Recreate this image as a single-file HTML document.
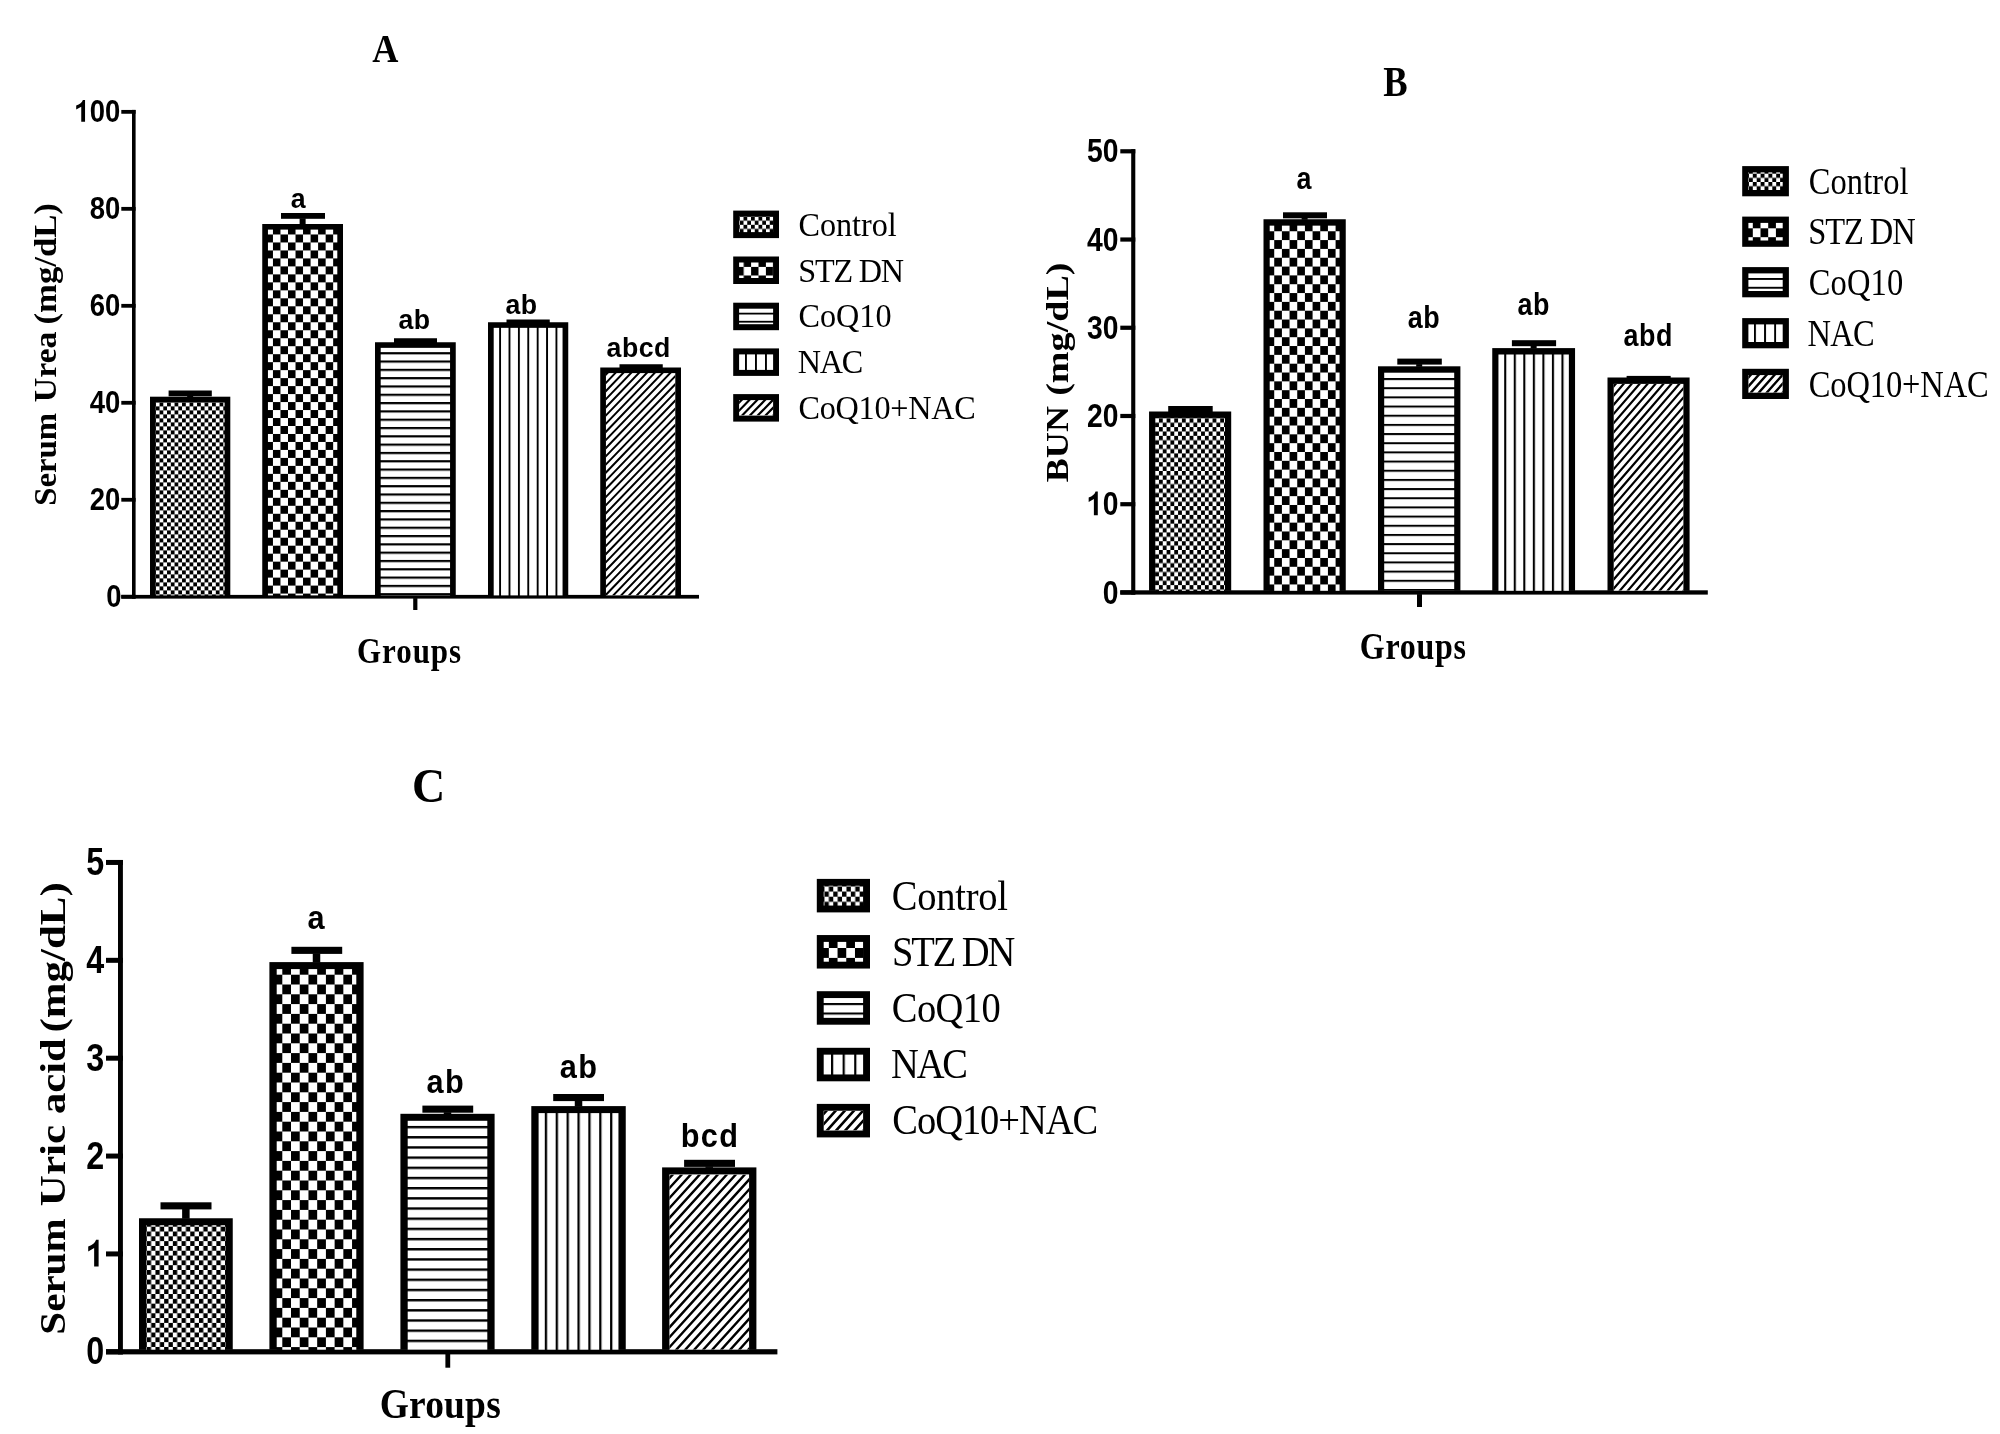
<!DOCTYPE html>
<html><head><meta charset="utf-8"><title>Serum urea, BUN and uric acid</title>
<style>html,body{margin:0;padding:0;background:#fff;}svg{display:block;filter:grayscale(1);}</style></head>
<body><svg width="2000" height="1434" viewBox="0 0 2000 1434">
<defs><pattern id="p1" patternUnits="userSpaceOnUse" x="155.8" y="402.4" width="7.5" height="8"><rect width="7.5" height="8" fill="#fff"/><rect x="3.75" y="0" width="3.75" height="4" fill="#000"/><rect x="0" y="4" width="3.75" height="4" fill="#000"/></pattern>
<pattern id="p2" patternUnits="userSpaceOnUse" x="265.4" y="226.5" width="15.06" height="15.96"><rect width="15.06" height="15.96" fill="#fff"/><rect x="7.53" y="0" width="7.53" height="7.98" fill="#000"/><rect x="0" y="7.98" width="7.53" height="7.98" fill="#000"/></pattern>
<pattern id="p3" patternUnits="userSpaceOnUse" x="0" y="352.16" width="20" height="8.31"><rect width="20" height="8.31" fill="#fff"/><rect y="0" width="20" height="2.2" fill="#000"/></pattern>
<pattern id="p4" patternUnits="userSpaceOnUse" x="499.15" y="0" width="9.39" height="20"><rect width="9.39" height="20" fill="#fff"/><rect x="0" width="1.9" height="20" fill="#000"/></pattern>
<pattern id="p5" patternUnits="userSpaceOnUse" x="739.75" y="216.6" width="7.5" height="8.2"><rect width="7.5" height="8.2" fill="#fff"/><rect x="3.75" y="0" width="3.75" height="4.1" fill="#000"/><rect x="0" y="4.1" width="3.75" height="4.1" fill="#000"/></pattern>
<pattern id="p6" patternUnits="userSpaceOnUse" x="736.3" y="258.3" width="14.8" height="17.2"><rect width="14.8" height="17.2" fill="#fff"/><rect x="7.4" y="0" width="7.4" height="8.6" fill="#000"/><rect x="0" y="8.6" width="7.4" height="8.6" fill="#000"/></pattern>
<pattern id="p7" patternUnits="userSpaceOnUse" x="0" y="312.7" width="20" height="8.1"><rect width="20" height="8.1" fill="#fff"/><rect y="0" width="20" height="1.8" fill="#000"/></pattern>
<pattern id="p8" patternUnits="userSpaceOnUse" x="745" y="0" width="10" height="20"><rect width="10" height="20" fill="#fff"/><rect x="0" width="1.9" height="20" fill="#000"/></pattern>
<pattern id="p9" patternUnits="userSpaceOnUse" x="1155.1" y="418.3" width="7.66" height="8.78"><rect width="7.66" height="8.78" fill="#fff"/><rect x="3.83" y="0" width="3.83" height="4.39" fill="#000"/><rect x="0" y="4.39" width="3.83" height="4.39" fill="#000"/></pattern>
<pattern id="p10" patternUnits="userSpaceOnUse" x="1266.56" y="222.42" width="15.34" height="17.66"><rect width="15.34" height="17.66" fill="#fff"/><rect x="7.67" y="0" width="7.67" height="8.83" fill="#000"/><rect x="0" y="8.83" width="7.67" height="8.83" fill="#000"/></pattern>
<pattern id="p11" patternUnits="userSpaceOnUse" x="0" y="378.05" width="20" height="9.17"><rect width="20" height="9.17" fill="#fff"/><rect y="0" width="20" height="2" fill="#000"/></pattern>
<pattern id="p12" patternUnits="userSpaceOnUse" x="1504.2" y="0" width="9.54" height="20"><rect width="9.54" height="20" fill="#fff"/><rect x="0" width="2.1" height="20" fill="#000"/></pattern>
<pattern id="p13" patternUnits="userSpaceOnUse" x="1748.9" y="173.67" width="7.8" height="8.36"><rect width="7.8" height="8.36" fill="#fff"/><rect x="3.9" y="0" width="3.9" height="4.18" fill="#000"/><rect x="0" y="4.18" width="3.9" height="4.18" fill="#000"/></pattern>
<pattern id="p14" patternUnits="userSpaceOnUse" x="1745.1" y="219.4" width="15.4" height="17.8"><rect width="15.4" height="17.8" fill="#fff"/><rect x="7.7" y="0" width="7.7" height="8.9" fill="#000"/><rect x="0" y="8.9" width="7.7" height="8.9" fill="#000"/></pattern>
<pattern id="p15" patternUnits="userSpaceOnUse" x="0" y="278" width="20" height="8.8"><rect width="20" height="8.8" fill="#fff"/><rect y="0" width="20" height="1.9" fill="#000"/></pattern>
<pattern id="p16" patternUnits="userSpaceOnUse" x="1754" y="0" width="10.1" height="20"><rect width="10.1" height="20" fill="#fff"/><rect x="0" width="1.9" height="20" fill="#000"/></pattern>
<pattern id="p17" patternUnits="userSpaceOnUse" x="146.75" y="1217.08" width="8.7" height="9.62"><rect width="8.7" height="9.62" fill="#fff"/><rect x="4.35" y="0" width="4.35" height="4.81" fill="#000"/><rect x="0" y="4.81" width="4.35" height="4.81" fill="#000"/></pattern>
<pattern id="p18" patternUnits="userSpaceOnUse" x="273.58" y="964.9" width="17.44" height="19.6"><rect width="17.44" height="19.6" fill="#fff"/><rect x="8.72" y="0" width="8.72" height="9.8" fill="#000"/><rect x="0" y="9.8" width="8.72" height="9.8" fill="#000"/></pattern>
<pattern id="p19" patternUnits="userSpaceOnUse" x="0" y="1125.9" width="20" height="10.18"><rect width="20" height="10.18" fill="#fff"/><rect y="0" width="20" height="2.4" fill="#000"/></pattern>
<pattern id="p20" patternUnits="userSpaceOnUse" x="544.8" y="0" width="10.88" height="20"><rect width="10.88" height="20" fill="#fff"/><rect x="0" width="2.3" height="20" fill="#000"/></pattern>
<pattern id="p21" patternUnits="userSpaceOnUse" x="824.45" y="886.5" width="8.8" height="10.2"><rect width="8.8" height="10.2" fill="#fff"/><rect x="4.4" y="0" width="4.4" height="5.1" fill="#000"/><rect x="0" y="5.1" width="4.4" height="5.1" fill="#000"/></pattern>
<pattern id="p22" patternUnits="userSpaceOnUse" x="820.15" y="938.1" width="17.4" height="19.8"><rect width="17.4" height="19.8" fill="#fff"/><rect x="8.7" y="0" width="8.7" height="9.9" fill="#000"/><rect x="0" y="9.9" width="8.7" height="9.9" fill="#000"/></pattern>
<pattern id="p23" patternUnits="userSpaceOnUse" x="0" y="1003" width="20" height="9.5"><rect width="20" height="9.5" fill="#fff"/><rect y="0" width="20" height="2.1" fill="#000"/></pattern>
<pattern id="p24" patternUnits="userSpaceOnUse" x="831" y="0" width="11.6" height="20"><rect width="11.6" height="20" fill="#fff"/><rect x="0" width="2.2" height="20" fill="#000"/></pattern>
<clipPath id="c1"><rect x="605.95" y="373.1" width="69.35" height="222.3"/></clipPath>
<clipPath id="c2"><rect x="739.1" y="400.1" width="34" height="15.5"/></clipPath>
<clipPath id="c3"><rect x="1613.7" y="383.9" width="69.7" height="206.9"/></clipPath>
<clipPath id="c4"><rect x="1748.4" y="375.1" width="34.3" height="17.6"/></clipPath>
<clipPath id="c5"><rect x="669.4" y="1174.4" width="79.7" height="175.3"/></clipPath>
<clipPath id="c6"><rect x="823.7" y="1110.75" width="39.4" height="19.8"/></clipPath></defs>
<rect width="2000" height="1434" fill="#fff"/>
<rect x="132" y="109.9" width="3.6" height="488.7" fill="#000"/>
<rect x="121.3" y="594.9" width="577.7" height="3.7" fill="#000"/>
<rect x="121.3" y="109.95" width="14.3" height="3.8" fill="#000"/>
<path transform="translate(74.46 121.65) scale(27.5000 31.1000)" d="M0.385,0L0.385,-0.699L0.307,-0.699Q0.261,-0.5795 0.063,-0.522L0.063,-0.393L0.247,-0.482L0.247,0Z"/>
<text transform="translate(89.75 121.65) scale(0.27500 0.31100)" font-family="Liberation Sans" font-weight="bold" font-size="100">0</text>
<text transform="translate(105.04 121.65) scale(0.27500 0.31100)" font-family="Liberation Sans" font-weight="bold" font-size="100">0</text>
<rect x="121.3" y="206.93" width="14.3" height="3.8" fill="#000"/>
<text transform="translate(89.75 218.63) scale(0.27500 0.31100)" font-family="Liberation Sans" font-weight="bold" font-size="100">8</text>
<text transform="translate(105.04 218.63) scale(0.27500 0.31100)" font-family="Liberation Sans" font-weight="bold" font-size="100">0</text>
<rect x="121.3" y="303.91" width="14.3" height="3.8" fill="#000"/>
<text transform="translate(89.75 315.61) scale(0.27500 0.31100)" font-family="Liberation Sans" font-weight="bold" font-size="100">6</text>
<text transform="translate(105.04 315.61) scale(0.27500 0.31100)" font-family="Liberation Sans" font-weight="bold" font-size="100">0</text>
<rect x="121.3" y="400.89" width="14.3" height="3.8" fill="#000"/>
<text transform="translate(89.75 412.59) scale(0.27500 0.31100)" font-family="Liberation Sans" font-weight="bold" font-size="100">4</text>
<text transform="translate(105.04 412.59) scale(0.27500 0.31100)" font-family="Liberation Sans" font-weight="bold" font-size="100">0</text>
<rect x="121.3" y="497.87" width="14.3" height="3.8" fill="#000"/>
<text transform="translate(89.75 509.57) scale(0.27500 0.31100)" font-family="Liberation Sans" font-weight="bold" font-size="100">2</text>
<text transform="translate(105.04 509.57) scale(0.27500 0.31100)" font-family="Liberation Sans" font-weight="bold" font-size="100">0</text>
<rect x="121.3" y="594.85" width="14.3" height="3.8" fill="#000"/>
<text transform="translate(106.24 606.55) scale(0.27500 0.31100)" font-family="Liberation Sans" font-weight="bold" font-size="100">0</text>
<rect x="413.2" y="598.1" width="4.2" height="11.9" fill="#000"/>
<rect x="150" y="396.7" width="80.3" height="198.7" fill="#000"/>
<rect x="155.7" y="402.3" width="68.9" height="193.1" fill="url(#p1)"/>
<rect x="262.25" y="224" width="80.75" height="371.4" fill="#000"/>
<rect x="267.95" y="229.6" width="69.35" height="365.8" fill="url(#p2)"/>
<rect x="375" y="342.25" width="80.75" height="253.15" fill="#000"/>
<rect x="380.7" y="347.85" width="69.35" height="247.55" fill="url(#p3)"/>
<rect x="488" y="322.25" width="80.25" height="273.15" fill="#000"/>
<rect x="493.7" y="327.85" width="68.85" height="267.55" fill="url(#p4)"/>
<rect x="600.25" y="367.5" width="80.75" height="227.9" fill="#000"/>
<rect x="605.95" y="373.1" width="69.35" height="222.3" fill="#fff"/>
<path clip-path="url(#c1)" d="M606.11,373.1L608.86,373.1L394.74,595.4L391.99,595.4ZM613.96,373.1L616.71,373.1L402.59,595.4L399.84,595.4ZM621.81,373.1L624.56,373.1L410.44,595.4L407.69,595.4ZM629.66,373.1L632.41,373.1L418.29,595.4L415.54,595.4ZM637.51,373.1L640.26,373.1L426.14,595.4L423.39,595.4ZM645.36,373.1L648.11,373.1L433.99,595.4L431.24,595.4ZM653.21,373.1L655.96,373.1L441.84,595.4L439.09,595.4ZM661.06,373.1L663.81,373.1L449.69,595.4L446.94,595.4ZM668.91,373.1L671.66,373.1L457.54,595.4L454.79,595.4ZM676.76,373.1L679.51,373.1L465.39,595.4L462.64,595.4ZM684.61,373.1L687.36,373.1L473.24,595.4L470.49,595.4ZM692.46,373.1L695.21,373.1L481.09,595.4L478.34,595.4ZM700.31,373.1L703.06,373.1L488.94,595.4L486.19,595.4ZM708.16,373.1L710.91,373.1L496.79,595.4L494.04,595.4ZM716.01,373.1L718.76,373.1L504.64,595.4L501.89,595.4ZM723.86,373.1L726.61,373.1L512.49,595.4L509.74,595.4ZM731.71,373.1L734.46,373.1L520.34,595.4L517.59,595.4ZM739.56,373.1L742.31,373.1L528.19,595.4L525.44,595.4ZM747.41,373.1L750.16,373.1L536.04,595.4L533.29,595.4ZM755.26,373.1L758.01,373.1L543.89,595.4L541.14,595.4ZM763.11,373.1L765.86,373.1L551.74,595.4L548.99,595.4ZM770.96,373.1L773.71,373.1L559.59,595.4L556.84,595.4ZM778.81,373.1L781.56,373.1L567.44,595.4L564.69,595.4ZM786.66,373.1L789.41,373.1L575.29,595.4L572.54,595.4ZM794.51,373.1L797.26,373.1L583.14,595.4L580.39,595.4ZM802.36,373.1L805.11,373.1L590.99,595.4L588.24,595.4ZM810.21,373.1L812.96,373.1L598.84,595.4L596.09,595.4ZM818.06,373.1L820.81,373.1L606.69,595.4L603.94,595.4ZM825.91,373.1L828.66,373.1L614.54,595.4L611.79,595.4ZM833.76,373.1L836.51,373.1L622.39,595.4L619.64,595.4ZM841.61,373.1L844.36,373.1L630.24,595.4L627.49,595.4ZM849.46,373.1L852.21,373.1L638.09,595.4L635.34,595.4ZM857.31,373.1L860.06,373.1L645.94,595.4L643.19,595.4ZM865.16,373.1L867.91,373.1L653.79,595.4L651.04,595.4ZM873.01,373.1L875.76,373.1L661.64,595.4L658.89,595.4ZM880.86,373.1L883.61,373.1L669.49,595.4L666.74,595.4ZM888.71,373.1L891.46,373.1L677.34,595.4L674.59,595.4Z"/>
<rect x="168.6" y="390.5" width="43.2" height="5.8" fill="#000"/>
<rect x="187.15" y="395.8" width="6" height="1.4" fill="#000"/>
<rect x="281" y="213" width="44" height="5.8" fill="#000"/>
<rect x="299.62" y="218.3" width="6" height="6.2" fill="#000"/>
<text transform="translate(290.69 207.6) scale(0.26700 0.27400)" font-family="Liberation Sans" font-weight="bold" font-size="100" letter-spacing="1.87">a</text>
<rect x="394" y="338.25" width="43" height="5.8" fill="#000"/>
<text transform="translate(398.43 329) scale(0.26700 0.27400)" font-family="Liberation Sans" font-weight="bold" font-size="100" letter-spacing="1.87">ab</text>
<rect x="506.5" y="319.5" width="43.25" height="5.8" fill="#000"/>
<text transform="translate(505.43 313.5) scale(0.26700 0.27400)" font-family="Liberation Sans" font-weight="bold" font-size="100" letter-spacing="1.87">ab</text>
<rect x="619.5" y="364.25" width="43.25" height="5.8" fill="#000"/>
<text transform="translate(606.58 357.25) scale(0.26700 0.27400)" font-family="Liberation Sans" font-weight="bold" font-size="100" letter-spacing="1.87">abcd</text>
<text transform="translate(372.34 61.8) scale(0.36200 0.39400)" font-family="Liberation Serif" font-weight="bold" font-size="100">A</text>
<text transform="translate(356.95 663.3) scale(0.31000 0.35800)" font-family="Liberation Serif" font-weight="bold" font-size="100" letter-spacing="3.14">Groups</text>
<text transform="translate(55.7 505.82) rotate(-90) scale(0.32833 0.31800)" font-family="Liberation Serif" font-weight="bold" font-size="100">Serum</text>
<text transform="translate(55.7 402.35) rotate(-90) scale(0.33910 0.31800)" font-family="Liberation Serif" font-weight="bold" font-size="100">Urea</text>
<text transform="translate(55.7 324.56) rotate(-90) scale(0.34725 0.31800)" font-family="Liberation Serif" font-weight="bold" font-size="100">(mg/dL)</text>
<rect x="733.2" y="210.6" width="45.8" height="27.5" fill="#000"/>
<rect x="739.1" y="216.6" width="34" height="15.5" fill="url(#p5)"/>
<text transform="translate(798.41 235.8) scale(0.32200 0.34600)" font-family="Liberation Serif" font-weight="normal" font-size="100" letter-spacing="0.03">Control</text>
<rect x="733.2" y="256.5" width="45.8" height="27.5" fill="#000"/>
<rect x="739.1" y="262.5" width="34" height="15.5" fill="url(#p6)"/>
<text transform="translate(798.23 281.5) scale(0.32200 0.34600)" font-family="Liberation Serif" font-weight="normal" font-size="100" letter-spacing="-3.74">STZ DN</text>
<rect x="733.2" y="302.7" width="45.8" height="27.5" fill="#000"/>
<rect x="739.1" y="308.7" width="34" height="15.5" fill="url(#p7)"/>
<text transform="translate(798.41 327.3) scale(0.32200 0.34600)" font-family="Liberation Serif" font-weight="normal" font-size="100" letter-spacing="0.11">CoQ10</text>
<rect x="733.2" y="348.4" width="45.8" height="27.5" fill="#000"/>
<rect x="739.1" y="354.4" width="34" height="15.5" fill="url(#p8)"/>
<text transform="translate(797.83 373.2) scale(0.32200 0.34600)" font-family="Liberation Serif" font-weight="normal" font-size="100" letter-spacing="-4.01">NAC</text>
<rect x="733.2" y="394.1" width="45.8" height="27.5" fill="#000"/>
<rect x="739.1" y="400.1" width="34" height="15.5" fill="#fff"/>
<path clip-path="url(#c2)" d="M740.1,400.1L743.1,400.1L727.99,415.6L724.99,415.6ZM747.9,400.1L750.9,400.1L735.79,415.6L732.79,415.6ZM755.7,400.1L758.7,400.1L743.59,415.6L740.59,415.6ZM763.5,400.1L766.5,400.1L751.39,415.6L748.39,415.6ZM771.3,400.1L774.3,400.1L759.19,415.6L756.19,415.6ZM779.1,400.1L782.1,400.1L766.99,415.6L763.99,415.6ZM786.9,400.1L789.9,400.1L774.79,415.6L771.79,415.6Z"/>
<text transform="translate(798.41 418.8) scale(0.32200 0.34600)" font-family="Liberation Serif" font-weight="normal" font-size="100" letter-spacing="-0.71">CoQ10+NAC</text>
<rect x="1131.2" y="149.2" width="4.1" height="445.4" fill="#000"/>
<rect x="1120.3" y="590.3" width="587.5" height="4.3" fill="#000"/>
<rect x="1120.3" y="149.2" width="15" height="4.2" fill="#000"/>
<text transform="translate(1086.89 162.4) scale(0.28300 0.33900)" font-family="Liberation Sans" font-weight="bold" font-size="100">5</text>
<text transform="translate(1102.63 162.4) scale(0.28300 0.33900)" font-family="Liberation Sans" font-weight="bold" font-size="100">0</text>
<rect x="1120.3" y="237.43" width="15" height="4.2" fill="#000"/>
<text transform="translate(1086.89 250.63) scale(0.28300 0.33900)" font-family="Liberation Sans" font-weight="bold" font-size="100">4</text>
<text transform="translate(1102.63 250.63) scale(0.28300 0.33900)" font-family="Liberation Sans" font-weight="bold" font-size="100">0</text>
<rect x="1120.3" y="325.66" width="15" height="4.2" fill="#000"/>
<text transform="translate(1086.89 338.86) scale(0.28300 0.33900)" font-family="Liberation Sans" font-weight="bold" font-size="100">3</text>
<text transform="translate(1102.63 338.86) scale(0.28300 0.33900)" font-family="Liberation Sans" font-weight="bold" font-size="100">0</text>
<rect x="1120.3" y="413.89" width="15" height="4.2" fill="#000"/>
<text transform="translate(1086.89 427.09) scale(0.28300 0.33900)" font-family="Liberation Sans" font-weight="bold" font-size="100">2</text>
<text transform="translate(1102.63 427.09) scale(0.28300 0.33900)" font-family="Liberation Sans" font-weight="bold" font-size="100">0</text>
<rect x="1120.3" y="502.12" width="15" height="4.2" fill="#000"/>
<path transform="translate(1086.89 515.32) scale(28.3000 33.9000)" d="M0.385,0L0.385,-0.699L0.307,-0.699Q0.261,-0.5795 0.063,-0.522L0.063,-0.393L0.247,-0.482L0.247,0Z"/>
<text transform="translate(1102.63 515.32) scale(0.28300 0.33900)" font-family="Liberation Sans" font-weight="bold" font-size="100">0</text>
<rect x="1120.3" y="590.35" width="15" height="4.2" fill="#000"/>
<text transform="translate(1102.63 603.55) scale(0.28300 0.33900)" font-family="Liberation Sans" font-weight="bold" font-size="100">0</text>
<rect x="1417" y="594.1" width="5" height="12.9" fill="#000"/>
<rect x="1149.05" y="411.5" width="82.15" height="179.3" fill="#000"/>
<rect x="1155.25" y="417.9" width="69.75" height="172.9" fill="url(#p9)"/>
<rect x="1263.5" y="219.25" width="82.25" height="371.55" fill="#000"/>
<rect x="1269.7" y="225.65" width="69.85" height="365.15" fill="url(#p10)"/>
<rect x="1378" y="366.3" width="82.4" height="224.5" fill="#000"/>
<rect x="1384.2" y="372.7" width="70" height="218.1" fill="url(#p11)"/>
<rect x="1492.25" y="348.1" width="82.8" height="242.7" fill="#000"/>
<rect x="1498.45" y="354.5" width="70.4" height="236.3" fill="url(#p12)"/>
<rect x="1607.5" y="377.5" width="82.1" height="213.3" fill="#000"/>
<rect x="1613.7" y="383.9" width="69.7" height="206.9" fill="#fff"/>
<path clip-path="url(#c3)" d="M1614.28,383.9L1617.18,383.9L1438.4,590.8L1435.5,590.8ZM1622.23,383.9L1625.13,383.9L1446.35,590.8L1443.45,590.8ZM1630.18,383.9L1633.08,383.9L1454.3,590.8L1451.4,590.8ZM1638.13,383.9L1641.03,383.9L1462.25,590.8L1459.35,590.8ZM1646.08,383.9L1648.98,383.9L1470.2,590.8L1467.3,590.8ZM1654.03,383.9L1656.93,383.9L1478.15,590.8L1475.25,590.8ZM1661.98,383.9L1664.88,383.9L1486.1,590.8L1483.2,590.8ZM1669.93,383.9L1672.83,383.9L1494.05,590.8L1491.15,590.8ZM1677.88,383.9L1680.78,383.9L1502,590.8L1499.1,590.8ZM1685.83,383.9L1688.73,383.9L1509.95,590.8L1507.05,590.8ZM1693.78,383.9L1696.68,383.9L1517.9,590.8L1515,590.8ZM1701.73,383.9L1704.63,383.9L1525.85,590.8L1522.95,590.8ZM1709.68,383.9L1712.58,383.9L1533.8,590.8L1530.9,590.8ZM1717.63,383.9L1720.53,383.9L1541.75,590.8L1538.85,590.8ZM1725.58,383.9L1728.48,383.9L1549.7,590.8L1546.8,590.8ZM1733.53,383.9L1736.43,383.9L1557.65,590.8L1554.75,590.8ZM1741.48,383.9L1744.38,383.9L1565.6,590.8L1562.7,590.8ZM1749.43,383.9L1752.33,383.9L1573.55,590.8L1570.65,590.8ZM1757.38,383.9L1760.28,383.9L1581.5,590.8L1578.6,590.8ZM1765.33,383.9L1768.23,383.9L1589.45,590.8L1586.55,590.8ZM1773.28,383.9L1776.18,383.9L1597.4,590.8L1594.5,590.8ZM1781.23,383.9L1784.13,383.9L1605.35,590.8L1602.45,590.8ZM1789.18,383.9L1792.08,383.9L1613.3,590.8L1610.4,590.8ZM1797.13,383.9L1800.03,383.9L1621.25,590.8L1618.35,590.8ZM1805.08,383.9L1807.98,383.9L1629.2,590.8L1626.3,590.8ZM1813.03,383.9L1815.93,383.9L1637.15,590.8L1634.25,590.8ZM1820.98,383.9L1823.88,383.9L1645.1,590.8L1642.2,590.8ZM1828.93,383.9L1831.83,383.9L1653.05,590.8L1650.15,590.8ZM1836.88,383.9L1839.78,383.9L1661,590.8L1658.1,590.8ZM1844.83,383.9L1847.73,383.9L1668.95,590.8L1666.05,590.8ZM1852.78,383.9L1855.68,383.9L1676.9,590.8L1674,590.8ZM1860.73,383.9L1863.63,383.9L1684.85,590.8L1681.95,590.8Z"/>
<rect x="1168.2" y="406" width="44.5" height="6" fill="#000"/>
<rect x="1283" y="212.3" width="44" height="6" fill="#000"/>
<rect x="1301.62" y="217.8" width="6" height="1.95" fill="#000"/>
<text transform="translate(1296.43 189) scale(0.26900 0.30600)" font-family="Liberation Sans" font-weight="bold" font-size="100" letter-spacing="2.23">a</text>
<rect x="1397.3" y="358.6" width="44.5" height="6" fill="#000"/>
<rect x="1416.2" y="364.1" width="6" height="2.7" fill="#000"/>
<text transform="translate(1407.82 328) scale(0.26900 0.30600)" font-family="Liberation Sans" font-weight="bold" font-size="100" letter-spacing="2.23">ab</text>
<rect x="1511.9" y="340.2" width="44.2" height="6" fill="#000"/>
<rect x="1530.65" y="345.7" width="6" height="2.9" fill="#000"/>
<text transform="translate(1517.42 314.7) scale(0.26900 0.30600)" font-family="Liberation Sans" font-weight="bold" font-size="100" letter-spacing="2.23">ab</text>
<rect x="1626.6" y="375.9" width="44.1" height="6" fill="#000"/>
<text transform="translate(1623.46 345.7) scale(0.26900 0.30600)" font-family="Liberation Sans" font-weight="bold" font-size="100" letter-spacing="2.23">abd</text>
<text transform="translate(1383.36 96.2) scale(0.36600 0.42900)" font-family="Liberation Serif" font-weight="bold" font-size="100">B</text>
<text transform="translate(1359.8 658.8) scale(0.32000 0.38100)" font-family="Liberation Serif" font-weight="bold" font-size="100" letter-spacing="2.21">Groups</text>
<text transform="translate(1068.2 482.33) rotate(-90) scale(0.36158 0.30800)" font-family="Liberation Serif" font-weight="bold" font-size="100">BUN</text>
<text transform="translate(1068.2 395.82) rotate(-90) scale(0.38125 0.30800)" font-family="Liberation Serif" font-weight="bold" font-size="100">(mg/dL)</text>
<rect x="1742.2" y="166.1" width="46.7" height="30.2" fill="#000"/>
<rect x="1748.4" y="172.4" width="34.3" height="17.6" fill="url(#p13)"/>
<text transform="translate(1808.7 193.5) scale(0.32500 0.37200)" font-family="Liberation Serif" font-weight="normal" font-size="100" letter-spacing="0.34">Control</text>
<rect x="1742.2" y="216.6" width="46.7" height="30.2" fill="#000"/>
<rect x="1748.4" y="222.9" width="34.3" height="17.6" fill="url(#p14)"/>
<text transform="translate(1808.31 244) scale(0.32500 0.37200)" font-family="Liberation Serif" font-weight="normal" font-size="100" letter-spacing="-3.34">STZ DN</text>
<rect x="1742.2" y="267.1" width="46.7" height="30.2" fill="#000"/>
<rect x="1748.4" y="273.4" width="34.3" height="17.6" fill="url(#p15)"/>
<text transform="translate(1808.7 294.5) scale(0.32500 0.37200)" font-family="Liberation Serif" font-weight="normal" font-size="100" letter-spacing="0.46">CoQ10</text>
<rect x="1742.2" y="318.1" width="46.7" height="30.2" fill="#000"/>
<rect x="1748.4" y="324.4" width="34.3" height="17.6" fill="url(#p16)"/>
<text transform="translate(1807.53 345.8) scale(0.32500 0.37200)" font-family="Liberation Serif" font-weight="normal" font-size="100" letter-spacing="-2.14">NAC</text>
<rect x="1742.2" y="368.8" width="46.7" height="30.2" fill="#000"/>
<rect x="1748.4" y="375.1" width="34.3" height="17.6" fill="#fff"/>
<path clip-path="url(#c4)" d="M1748.99,375.1L1752.19,375.1L1736.47,392.7L1733.27,392.7ZM1756.94,375.1L1760.14,375.1L1744.42,392.7L1741.22,392.7ZM1764.89,375.1L1768.09,375.1L1752.37,392.7L1749.17,392.7ZM1772.84,375.1L1776.04,375.1L1760.32,392.7L1757.12,392.7ZM1780.79,375.1L1783.99,375.1L1768.27,392.7L1765.07,392.7ZM1788.74,375.1L1791.94,375.1L1776.22,392.7L1773.02,392.7ZM1796.69,375.1L1799.89,375.1L1784.17,392.7L1780.97,392.7Z"/>
<text transform="translate(1808.7 396.5) scale(0.32500 0.37200)" font-family="Liberation Serif" font-weight="normal" font-size="100" letter-spacing="-0.3">CoQ10+NAC</text>
<rect x="118" y="860" width="4.9" height="494.4" fill="#000"/>
<rect x="106" y="1349.2" width="671.4" height="5.2" fill="#000"/>
<rect x="106" y="859.95" width="16.9" height="5" fill="#000"/>
<text transform="translate(86.17 875.05) scale(0.32300 0.38400)" font-family="Liberation Sans" font-weight="bold" font-size="100">5</text>
<rect x="106" y="957.82" width="16.9" height="5" fill="#000"/>
<text transform="translate(86.17 972.92) scale(0.32300 0.38400)" font-family="Liberation Sans" font-weight="bold" font-size="100">4</text>
<rect x="106" y="1055.69" width="16.9" height="5" fill="#000"/>
<text transform="translate(86.17 1070.79) scale(0.32300 0.38400)" font-family="Liberation Sans" font-weight="bold" font-size="100">3</text>
<rect x="106" y="1153.56" width="16.9" height="5" fill="#000"/>
<text transform="translate(86.17 1168.66) scale(0.32300 0.38400)" font-family="Liberation Sans" font-weight="bold" font-size="100">2</text>
<rect x="106" y="1251.43" width="16.9" height="5" fill="#000"/>
<path transform="translate(86.17 1266.53) scale(32.3000 38.4000)" d="M0.385,0L0.385,-0.699L0.307,-0.699Q0.261,-0.5795 0.063,-0.522L0.063,-0.393L0.247,-0.482L0.247,0Z"/>
<rect x="106" y="1349.3" width="16.9" height="5" fill="#000"/>
<text transform="translate(86.17 1364.4) scale(0.32300 0.38400)" font-family="Liberation Sans" font-weight="bold" font-size="100">0</text>
<rect x="445.4" y="1353.9" width="4.8" height="13.8" fill="#000"/>
<rect x="139" y="1218.25" width="93.75" height="131.45" fill="#000"/>
<rect x="146.3" y="1225.25" width="79.15" height="124.45" fill="url(#p17)"/>
<rect x="269.4" y="962.1" width="94.2" height="387.6" fill="#000"/>
<rect x="276.7" y="969.1" width="79.6" height="380.6" fill="url(#p18)"/>
<rect x="400.4" y="1113.8" width="94.2" height="235.9" fill="#000"/>
<rect x="407.7" y="1120.8" width="79.6" height="228.9" fill="url(#p19)"/>
<rect x="531.3" y="1106.1" width="94.45" height="243.6" fill="#000"/>
<rect x="538.6" y="1113.1" width="79.85" height="236.6" fill="url(#p20)"/>
<rect x="662.1" y="1167.4" width="94.3" height="182.3" fill="#000"/>
<rect x="669.4" y="1174.4" width="79.7" height="175.3" fill="#fff"/>
<path clip-path="url(#c5)" d="M671.19,1174.4L674.44,1174.4L515.88,1349.7L512.63,1349.7ZM680.19,1174.4L683.44,1174.4L524.88,1349.7L521.63,1349.7ZM689.19,1174.4L692.44,1174.4L533.88,1349.7L530.63,1349.7ZM698.19,1174.4L701.44,1174.4L542.88,1349.7L539.63,1349.7ZM707.19,1174.4L710.44,1174.4L551.88,1349.7L548.63,1349.7ZM716.19,1174.4L719.44,1174.4L560.88,1349.7L557.63,1349.7ZM725.19,1174.4L728.44,1174.4L569.88,1349.7L566.63,1349.7ZM734.19,1174.4L737.44,1174.4L578.88,1349.7L575.63,1349.7ZM743.19,1174.4L746.44,1174.4L587.88,1349.7L584.63,1349.7ZM752.19,1174.4L755.44,1174.4L596.88,1349.7L593.63,1349.7ZM761.19,1174.4L764.44,1174.4L605.88,1349.7L602.63,1349.7ZM770.19,1174.4L773.44,1174.4L614.88,1349.7L611.63,1349.7ZM779.19,1174.4L782.44,1174.4L623.88,1349.7L620.63,1349.7ZM788.19,1174.4L791.44,1174.4L632.88,1349.7L629.63,1349.7ZM797.19,1174.4L800.44,1174.4L641.88,1349.7L638.63,1349.7ZM806.19,1174.4L809.44,1174.4L650.88,1349.7L647.63,1349.7ZM815.19,1174.4L818.44,1174.4L659.88,1349.7L656.63,1349.7ZM824.19,1174.4L827.44,1174.4L668.88,1349.7L665.63,1349.7ZM833.19,1174.4L836.44,1174.4L677.88,1349.7L674.63,1349.7ZM842.19,1174.4L845.44,1174.4L686.88,1349.7L683.63,1349.7ZM851.19,1174.4L854.44,1174.4L695.88,1349.7L692.63,1349.7ZM860.19,1174.4L863.44,1174.4L704.88,1349.7L701.63,1349.7ZM869.19,1174.4L872.44,1174.4L713.88,1349.7L710.63,1349.7ZM878.19,1174.4L881.44,1174.4L722.88,1349.7L719.63,1349.7ZM887.19,1174.4L890.44,1174.4L731.88,1349.7L728.63,1349.7ZM896.19,1174.4L899.44,1174.4L740.88,1349.7L737.63,1349.7ZM905.19,1174.4L908.44,1174.4L749.88,1349.7L746.63,1349.7Z"/>
<rect x="160.5" y="1202.3" width="51" height="7.1" fill="#000"/>
<rect x="182.12" y="1208.9" width="7.5" height="9.85" fill="#000"/>
<rect x="291.4" y="946.8" width="50.8" height="7.1" fill="#000"/>
<rect x="312.75" y="953.4" width="7.5" height="9.2" fill="#000"/>
<text transform="translate(307.41 928.6) scale(0.30700 0.34100)" font-family="Liberation Sans" font-weight="bold" font-size="100" letter-spacing="4.23">a</text>
<rect x="422.4" y="1105.6" width="50.8" height="7.1" fill="#000"/>
<rect x="443.75" y="1112.2" width="7.5" height="2.1" fill="#000"/>
<text transform="translate(426.62 1093) scale(0.30700 0.34100)" font-family="Liberation Sans" font-weight="bold" font-size="100" letter-spacing="4.23">ab</text>
<rect x="553.2" y="1094" width="50.8" height="7.1" fill="#000"/>
<rect x="574.77" y="1100.6" width="7.5" height="6" fill="#000"/>
<text transform="translate(559.82 1078) scale(0.30700 0.34100)" font-family="Liberation Sans" font-weight="bold" font-size="100" letter-spacing="4.23">ab</text>
<rect x="684.1" y="1159.8" width="50.9" height="7.1" fill="#000"/>
<rect x="705.5" y="1166.4" width="7.5" height="1.5" fill="#000"/>
<text transform="translate(680.72 1147) scale(0.30700 0.34100)" font-family="Liberation Sans" font-weight="bold" font-size="100" letter-spacing="4.23">bcd</text>
<text transform="translate(411.9 802) scale(0.46000 0.48000)" font-family="Liberation Serif" font-weight="bold" font-size="100">C</text>
<text transform="translate(379.68 1417.8) scale(0.37500 0.41200)" font-family="Liberation Serif" font-weight="bold" font-size="100" letter-spacing="0.49">Groups</text>
<text transform="translate(64.9 1334.66) rotate(-90) scale(0.41050 0.36000)" font-family="Liberation Serif" font-weight="bold" font-size="100">Serum</text>
<text transform="translate(64.9 1206.18) rotate(-90) scale(0.43098 0.36000)" font-family="Liberation Serif" font-weight="bold" font-size="100">Uric</text>
<text transform="translate(64.9 1114.09) rotate(-90) scale(0.42651 0.36000)" font-family="Liberation Serif" font-weight="bold" font-size="100">acid</text>
<text transform="translate(64.9 1032.43) rotate(-90) scale(0.42930 0.36000)" font-family="Liberation Serif" font-weight="bold" font-size="100">(mg/dL)</text>
<rect x="816.8" y="878.9" width="53.2" height="33.5" fill="#000"/>
<rect x="823.7" y="885.75" width="39.4" height="19.8" fill="url(#p21)"/>
<text transform="translate(891.86 909.6) scale(0.38500 0.42400)" font-family="Liberation Serif" font-weight="normal" font-size="100" letter-spacing="-0.65">Control</text>
<rect x="816.8" y="935.05" width="53.2" height="33.5" fill="#000"/>
<rect x="823.7" y="941.9" width="39.4" height="19.8" fill="url(#p22)"/>
<text transform="translate(891.9 965.7) scale(0.38500 0.42400)" font-family="Liberation Serif" font-weight="normal" font-size="100" letter-spacing="-5.36">STZ DN</text>
<rect x="816.8" y="991.2" width="53.2" height="33.5" fill="#000"/>
<rect x="823.7" y="998.05" width="39.4" height="19.8" fill="url(#p23)"/>
<text transform="translate(891.86 1021.7) scale(0.38500 0.42400)" font-family="Liberation Serif" font-weight="normal" font-size="100" letter-spacing="-1.55">CoQ10</text>
<rect x="816.8" y="1047.8" width="53.2" height="33.5" fill="#000"/>
<rect x="823.7" y="1054.65" width="39.4" height="19.8" fill="url(#p24)"/>
<text transform="translate(891.05 1078.2) scale(0.38500 0.42400)" font-family="Liberation Serif" font-weight="normal" font-size="100" letter-spacing="-5.66">NAC</text>
<rect x="816.8" y="1103.9" width="53.2" height="33.5" fill="#000"/>
<rect x="823.7" y="1110.75" width="39.4" height="19.8" fill="#fff"/>
<path clip-path="url(#c6)" d="M824.73,1110.75L828.23,1110.75L810.51,1130.55L807.01,1130.55ZM833.86,1110.75L837.36,1110.75L819.64,1130.55L816.14,1130.55ZM842.99,1110.75L846.49,1110.75L828.77,1130.55L825.27,1130.55ZM852.12,1110.75L855.62,1110.75L837.9,1130.55L834.4,1130.55ZM861.25,1110.75L864.75,1110.75L847.03,1130.55L843.53,1130.55ZM870.38,1110.75L873.88,1110.75L856.16,1130.55L852.66,1130.55ZM879.51,1110.75L883.01,1110.75L865.29,1130.55L861.79,1130.55Z"/>
<text transform="translate(892.26 1134.3) scale(0.38500 0.42400)" font-family="Liberation Serif" font-weight="normal" font-size="100" letter-spacing="-2.66">CoQ10+NAC</text>
</svg></body></html>
